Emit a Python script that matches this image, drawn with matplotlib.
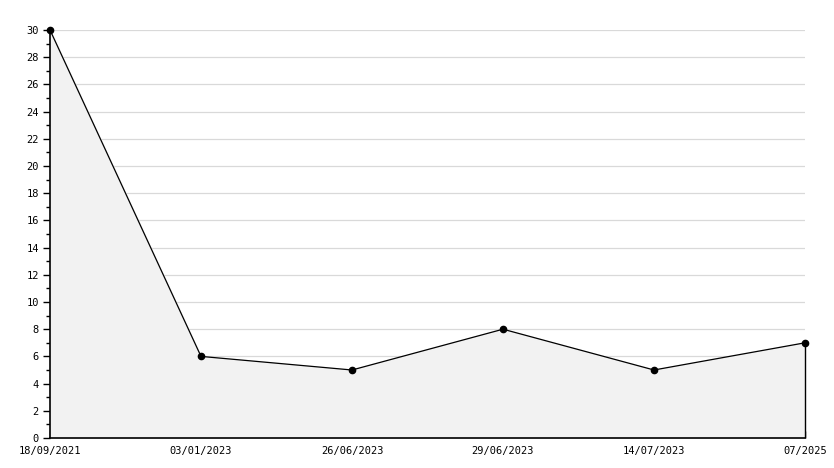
import numpy as np
import matplotlib.pyplot as plt

dates = ["18/09/2021", "03/01/2023", "26/06/2023", "29/06/2023", "14/07/2023", "07/2025"]
values = [30, 6, 5, 8, 5, 7]

W, H = 834, 468
fig = plt.figure(figsize=(W / 100, H / 100), dpi=100)
ax = fig.add_axes([50 / W, 30 / H, 755 / W, 408 / H])

x = np.arange(len(values))
ax.fill_between(x, values, 0, color="#f2f2f2", zorder=1)
ax.plot(x, values, color="black", lw=0.9, zorder=3, clip_on=False)
ax.plot(x, values, "o", color="black", ms=4.5, zorder=4, clip_on=False)
ax.vlines(x[-1], 0, values[-1], color="black", lw=1.0, zorder=3, clip_on=False)

ax.set_xlim(0, len(values) - 1)
ax.set_ylim(0, 30)

ax.set_yticks(range(0, 31, 2))
ax.set_yticks(range(1, 31, 2), minor=True)
ax.yaxis.grid(True, which="major", color="#d9d9d9", lw=0.9)
ax.set_axisbelow(True)
ax.set_xticks(x)
ax.set_xticklabels(dates)

for side in ["top", "right"]:
    ax.spines[side].set_visible(False)
for side in ["left", "bottom"]:
    ax.spines[side].set_linewidth(1.2)
    ax.spines[side].set_zorder(5)

ax.tick_params(axis="y", which="major", direction="out", length=5, width=1, labelsize=7.5, pad=3)
ax.tick_params(axis="y", which="minor", direction="out", length=3, width=1)
ax.tick_params(axis="x", direction="in", length=5, width=1, labelsize=7.5, pad=6)
for lab in ax.get_xticklabels() + ax.get_yticklabels():
    lab.set_family("DejaVu Sans Mono")

fig.savefig("out.png", dpi=100, facecolor="white")
